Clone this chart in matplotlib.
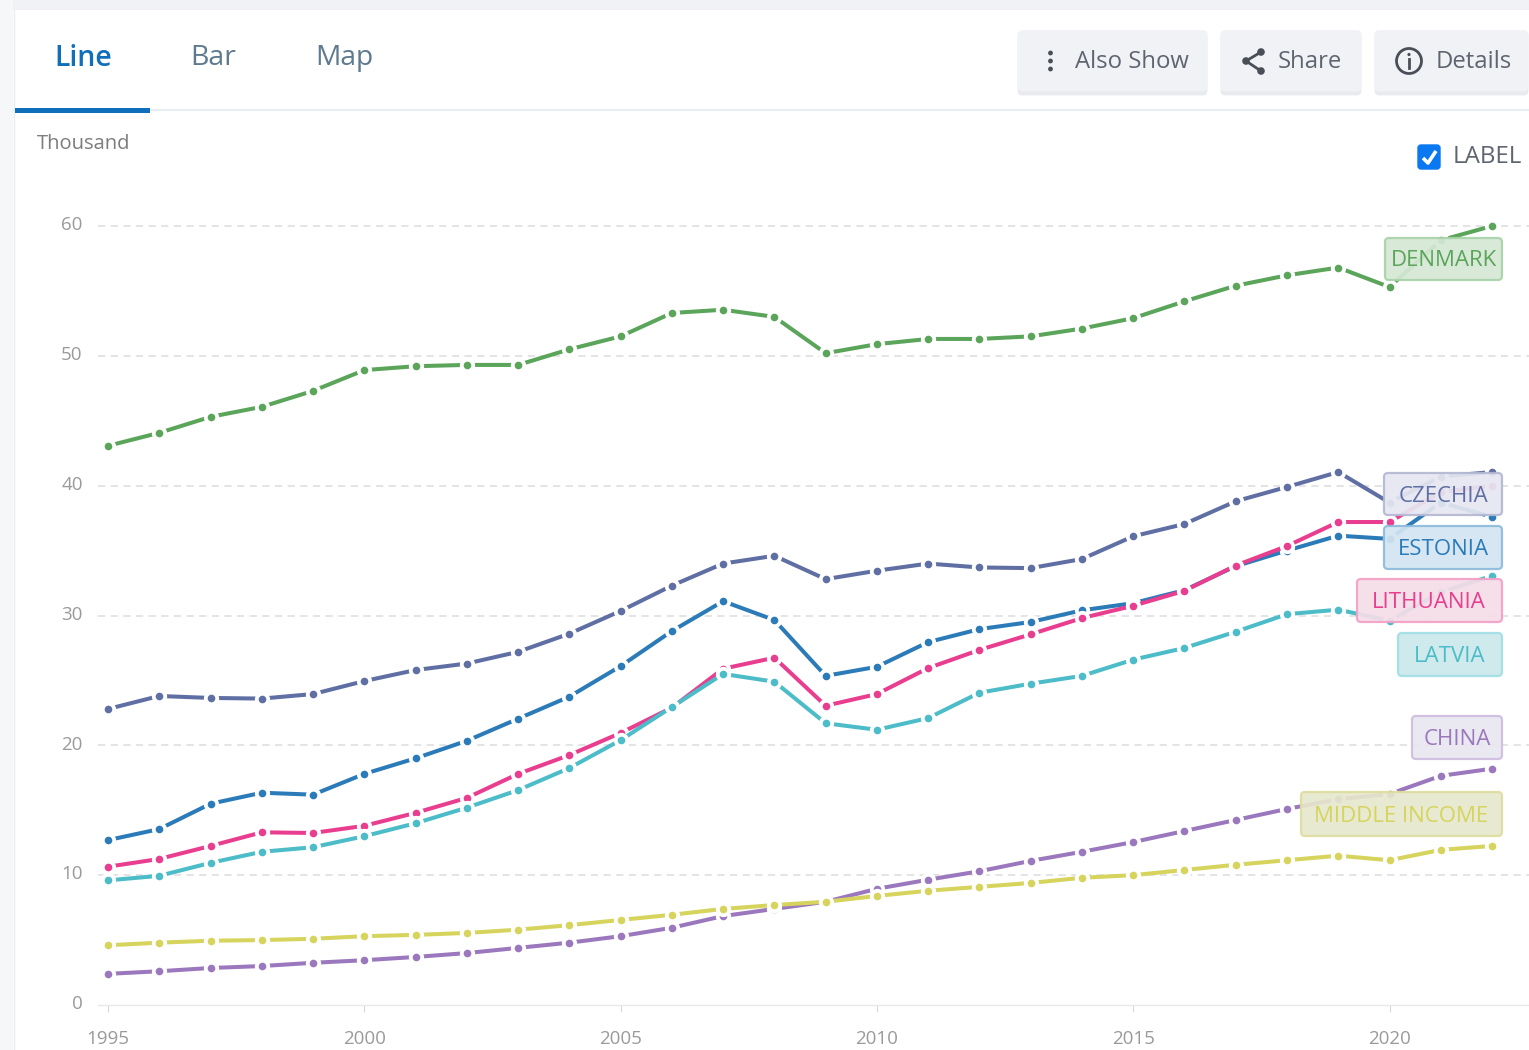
import matplotlib
matplotlib.use("Agg")
import matplotlib.pyplot as plt
from matplotlib.patches import Circle, FancyBboxPatch, Rectangle
from matplotlib.transforms import ScaledTranslation

plt.rcParams['font.family'] = ['Open Sans', 'DejaVu Sans']

W, H = 1529, 1050

years = list(range(1995, 2023))
denmark = [43.07, 44.07, 45.3, 46.07, 47.3, 48.9, 49.2, 49.3, 49.3, 50.5, 51.5, 53.3, 53.55, 53.0,
           50.2, 50.9, 51.3, 51.3, 51.5, 52.1, 52.9, 54.2, 55.4, 56.2, 56.8, 55.3, 58.9, 60.0]
czechia = [22.8, 23.8, 23.65, 23.6, 23.95, 24.95, 25.8, 26.3, 27.2, 28.6, 30.35, 32.3, 34.0, 34.6,
           32.8, 33.45, 34.0, 33.7, 33.65, 34.35, 36.1, 37.05, 38.8, 39.9, 41.05, 38.7, 40.7, 41.05]
estonia = [12.7, 13.55, 15.5, 16.35, 16.2, 17.8, 19.0, 20.35, 22.05, 23.75, 26.1, 28.8, 31.1, 29.65,
           25.35, 26.05, 27.95, 28.95, 29.5, 30.4, 30.95, 31.95, 33.8, 35.0, 36.15, 35.9, 38.7, 37.6]
lithuania = [10.65, 11.25, 12.25, 13.3, 13.25, 13.8, 14.8, 15.95, 17.8, 19.25, 20.95, 22.9, 25.9, 26.75,
             23.05, 23.95, 25.95, 27.35, 28.55, 29.8, 30.75, 31.9, 33.85, 35.35, 37.2, 37.2, 39.5, 40.0]
latvia = [9.6, 9.95, 10.95, 11.8, 12.15, 13.0, 14.0, 15.2, 16.55, 18.25, 20.4, 22.95, 25.5, 24.9,
          21.7, 21.2, 22.1, 24.05, 24.75, 25.35, 26.6, 27.5, 28.75, 30.1, 30.45, 29.6, 31.8, 33.05]
china = [2.4, 2.6, 2.85, 3.0, 3.25, 3.45, 3.7, 4.0, 4.4, 4.8, 5.3, 5.95, 6.85, 7.4,
         7.95, 8.95, 9.65, 10.3, 11.1, 11.8, 12.55, 13.4, 14.25, 15.1, 15.85, 16.25, 17.65, 18.2]
middle_income = [4.6, 4.8, 4.95, 5.0, 5.1, 5.3, 5.4, 5.55, 5.8, 6.15, 6.55, 6.95, 7.4, 7.7,
                 7.95, 8.4, 8.8, 9.1, 9.4, 9.8, 10.0, 10.4, 10.8, 11.15, 11.5, 11.15, 11.95, 12.25]

x_ticks = [1995, 2000, 2005, 2010, 2015, 2020]
y_ticks = [0, 10, 20, 30, 40, 50, 60]

# name, values, colour
series = [
    ("DENMARK", denmark, "#5ba55b"),
    ("CZECHIA", czechia, "#5f6ea3"),
    ("ESTONIA", estonia, "#2b7bb9"),
    ("LITHUANIA", lithuania, "#e93e8f"),
    ("LATVIA", latvia, "#4bbcc8"),
    ("CHINA", china, "#9b78bd"),
    ("MIDDLE INCOME", middle_income, "#d6d45c"),
]

fig = plt.figure(figsize=(W / 100, H / 100), dpi=100, facecolor="white")

# chart axes, placed so 1995 sits at x=108 and 0..60 spans y=1005..226
ax = fig.add_axes([98 / W, (H - 1005) / H, (W - 98) / W, (1005 - 226) / H])
ax.set_xlim(1995 - 10 / 51.26, 1995 + (W - 108) / 51.26)
ax.set_ylim(0, 60)
for side in ["top", "left", "right"]:
    ax.spines[side].set_visible(False)
ax.spines["bottom"].set_color("#e6e8eb")
ax.spines["bottom"].set_linewidth(1)
ax.set_xticks(x_ticks)
ax.set_yticks(y_ticks)
ax.tick_params(axis="x", length=5, color="#d5d8dc", labelsize=13.5, labelcolor="#9a9a9a", pad=13)
ax.tick_params(axis="y", length=0, labelsize=13.5, labelcolor="#9a9a9a", pad=11)
# y labels sit a little above their gridlines
nudge = ScaledTranslation(0, 2 / 72, fig.dpi_scale_trans)
for lab in ax.get_yticklabels():
    lab.set_transform(lab.get_transform() + nudge)
for v in y_ticks[1:]:
    ax.axhline(v, color="#e2e2e2", lw=1.3, dashes=(4, 3), zorder=1, clip_on=False)

for i, (name, vals, col) in enumerate(series):
    z = 3 + i
    ax.plot(years, vals, color=col, lw=2.9, zorder=z, clip_on=False, solid_capstyle="butt")
    ax.plot(years, vals, "o", color="white", ms=11, mew=0, zorder=z, clip_on=False)
    ax.plot(years, vals, "o", color=col, ms=5.5, mew=0, zorder=z, clip_on=False)

# page furniture drawn on a pixel-coordinate overlay
ui = fig.add_axes([0, 0, 1, 1], zorder=10)
ui.set_xlim(0, W)
ui.set_ylim(H, 0)
ui.axis("off")
ui.patch.set_alpha(0)

strip = "#f0f2f6"
ui.add_patch(Rectangle((0, 0), W, 10, color=strip, lw=0))
ui.add_patch(Rectangle((0, 0), 13, H, color="#f6f7f9", lw=0))
ui.plot([14, 14], [10, H], color="#e9ebef", lw=1)
ui.plot([14, W], [110, 110], color="#e9edf2", lw=1.5, zorder=2)
ui.add_patch(Rectangle((15, 108), 135, 4.5, color="#0f6fba", lw=0, zorder=3))

ui.text(83, 58, "Line", color="#0f6fba", fontsize=20.5, ha="center", va="center", weight="semibold")
ui.text(213, 58, "Bar", color="#5f7a8f", fontsize=20.5, ha="center", va="center")
ui.text(344, 58, "Map", color="#5f7a8f", fontsize=20.3, ha="center", va="center")
ui.text(37, 144, "Thousand", color="#7d7d7d", fontsize=14.5, ha="left", va="center")

# buttons: x, width, text, text x
buttons = [(1017, 191, "Also Show", 1075), (1220, 142, "Share", 1278), (1374, 155, "Details", 1436)]
for bx, bw, label, tx in buttons:
    ui.add_patch(FancyBboxPatch((bx + 2, 32), bw - 4, 62, boxstyle="round,pad=0,rounding_size=3",
                                fc="#e8eaee", ec="#e8eaee", lw=2))
    ui.add_patch(FancyBboxPatch((bx + 2, 32), bw - 4, 58, boxstyle="round,pad=0,rounding_size=3",
                                fc="#f0f2f6", ec="#f0f2f6", lw=2))
    ui.text(tx, 62.5, label, color="#5e6470", fontsize=17.2, ha="left", va="center")

icon = "#4a4f57"
for dot_y in [53, 61, 69]:
    ui.add_patch(Circle((1050.5, dot_y), 2.4, color=icon, lw=0))
ui.plot([1261, 1246, 1261], [52, 61, 71], color=icon, lw=2)
for cx, cy in [(1261, 52), (1246, 61), (1261, 71)]:
    ui.add_patch(Circle((cx, cy), 3.8, color=icon, lw=0))
ui.add_patch(Circle((1409, 61), 12.5, fc="none", ec=icon, lw=2))
ui.add_patch(Circle((1409, 54.5), 1.6, color=icon, lw=0))
ui.plot([1409, 1409], [59, 68], color=icon, lw=2)

# label checkbox
ui.add_patch(FancyBboxPatch((1418, 145), 22, 24, boxstyle="round,pad=0,rounding_size=3",
                            fc="#0a78f0", ec="#0a78f0", lw=1))
ui.plot([1423, 1428, 1436], [158, 163, 151], color="white", lw=2.6, solid_capstyle="butt")
ui.text(1453, 157, "LABEL", color="#5e6470", fontsize=17.4, ha="left", va="center")

# end labels: name, x0, y0, x1, y1, text centre x, face, edge, text colour
labels = [
    ("DENMARK", 1384, 237, 1503, 281, 1444, "#d5e8d5", "#a9d3a9", "#5ba55b"),
    ("CZECHIA", 1383, 472, 1503, 516, 1443, "#e6e7f1", "#b3b8d2", "#5f6ea3"),
    ("ESTONIA", 1383, 525, 1503, 570, 1443, "#d3e5f2", "#8dbbdc", "#2b7bb9"),
    ("LITHUANIA", 1356, 578, 1503, 623, 1429, "#f5dde8", "#f2a0c6", "#e93e8f"),
    ("LATVIA", 1397, 632, 1503, 677, 1450, "#cbe9eb", "#a0dfe4", "#4bbcc8"),
    ("CHINA", 1411, 715, 1503, 760, 1457, "#e9e6f0", "#cfbde0", "#9b78bd"),
    ("MIDDLE INCOME", 1300, 791, 1503, 837, 1401, "#e7e8cd", "#dedd9e", "#d6d45c"),
]
for name, x0, y0, x1, y1, tx, fc, ec, tc in labels:
    ui.add_patch(FancyBboxPatch((x0 + 1, y0 + 1), x1 - x0 - 2, y1 - y0 - 2,
                                boxstyle="round,pad=0,rounding_size=4",
                                fc=fc, ec=ec, lw=1.6, alpha=0.92))
    ui.text(tx, (y0 + y1) / 2 + 2, name, color=tc, fontsize=16, ha="center", va="center")

fig.savefig("out.png", dpi=100)
